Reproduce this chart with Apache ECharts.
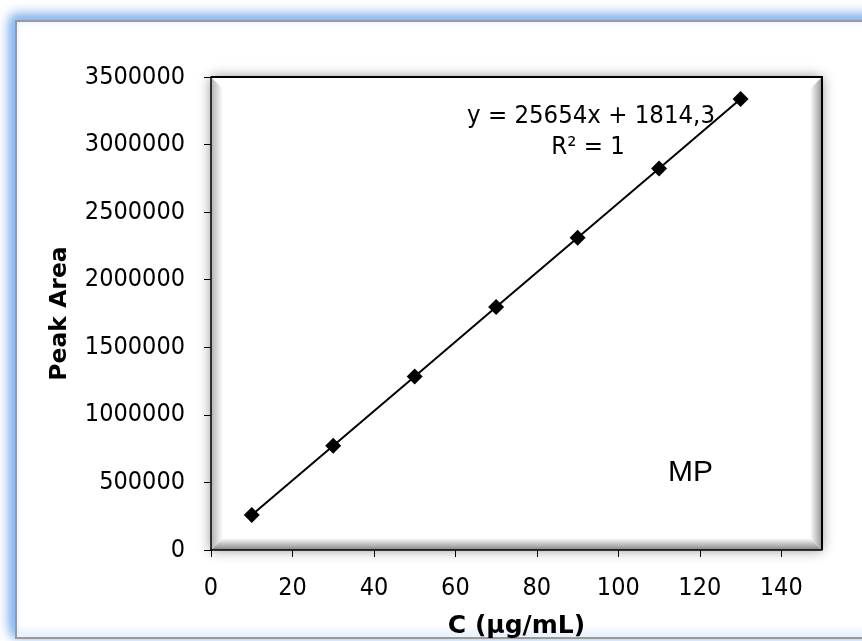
<!DOCTYPE html>
<html>
<head>
<meta charset="utf-8">
<script src="https://cdn.jsdelivr.net/npm/echarts@6/dist/echarts.min.js"></script>
<style>html,body{margin:0;padding:0;background:#fff;}#c{width:862px;height:641px;}</style>
</head>
<body>
<div id="c"></div>
<script>
const concentrations = [10, 30, 50, 70, 90, 110, 130];
const peakAreas = [258354, 771434, 1284514, 1797594, 2310674, 2823754, 3336834];
const xTicks = [0, 20, 40, 60, 80, 100, 120, 140];
const equationText = 'y = 25654x + 1814,3';
const r2Text = 'R² = 1';
const seriesLabel = 'MP';

const FONT = "'DejaVu Sans Condensed', 'DejaVu Sans', sans-serif";
const BFONT = "'DejaVu Sans', sans-serif";
const G = {l: 211, t: 77, r: 822, b: 550};
const BW = 12;

const chart = echarts.init(document.getElementById('c'), null, {renderer: 'canvas'});
chart.setOption({
  animation: false,
  backgroundColor: '#fff',
  grid: {left: G.l, top: G.t, width: G.r - G.l, height: G.b - G.t, containLabel: false, outerBoundsMode: 'none'},
  xAxis: {
    type: 'value', min: 0, max: 150, interval: 20, z: 5,
    name: 'C (µg/mL)', nameLocation: 'middle', nameGap: 64,
    nameTextStyle: {fontFamily: BFONT, fontSize: 25, fontWeight: 'bold', color: '#000'},
    axisLine: {show: true, onZero: false, lineStyle: {color: '#000', width: 1.5}},
    axisTick: {show: true, inside: false, length: 7, lineStyle: {color: '#000'}, customValues: xTicks},
    axisLabel: {fontFamily: FONT, fontSize: 25, color: '#000', margin: 26, customValues: xTicks},
    splitLine: {show: false}
  },
  yAxis: {
    type: 'value', min: 0, max: 3500000, interval: 500000, z: 5,
    name: 'Peak Area', nameLocation: 'middle', nameGap: 139, nameRotate: 90,
    nameTextStyle: {fontFamily: BFONT, fontSize: 23.5, fontWeight: 'bold', color: '#000'},
    axisLine: {show: true, lineStyle: {color: '#000', width: 1.5}},
    axisTick: {show: true, inside: false, length: 7, lineStyle: {color: '#000'}},
    axisLabel: {fontFamily: FONT, fontSize: 25, color: '#000', margin: 26, formatter: v => String(v)},
    splitLine: {show: false}
  },
  graphic: {elements: [
    {type: 'rect', z: -11, shape: {x: 16, y: 21, width: 900, height: 617},
     style: {fill: '#fff', shadowBlur: 14, shadowColor: 'rgba(110,165,235,1)', shadowOffsetX: -5, shadowOffsetY: -5}},
    {type: 'rect', z: -10, shape: {x: 16, y: 21, width: 900, height: 617},
     style: {fill: '#fff', stroke: '#9a9a9a', lineWidth: 2, shadowBlur: 8, shadowColor: 'rgba(140,185,240,1)', shadowOffsetX: -3, shadowOffsetY: -3}},
    {type: 'rect', z: -5, shape: {x: G.l, y: G.t, width: G.r - G.l, height: G.b - G.t},
     style: {fill: '#fff', shadowBlur: 12, shadowColor: 'rgba(0,0,0,0.45)', shadowOffsetX: 0, shadowOffsetY: 0}},
    {type: 'polygon', z: -4, shape: {points: [[G.l, G.t], [G.l + BW, G.t + BW], [G.l + BW, G.b - BW], [G.l, G.b]]},
     style: {fill: new echarts.graphic.LinearGradient(0, 0, 1, 0, [{offset: 0, color: '#b0b0b0'}, {offset: 1, color: '#fff'}])}},
    {type: 'polygon', z: -4, shape: {points: [[G.l, G.b], [G.l + BW, G.b - BW], [G.r - BW, G.b - BW], [G.r, G.b]]},
     style: {fill: new echarts.graphic.LinearGradient(0, 1, 0, 0, [{offset: 0, color: '#858585'}, {offset: 1, color: '#fff'}])}},
    {type: 'polygon', z: -4, shape: {points: [[G.r, G.t], [G.r - BW, G.t + BW], [G.r - BW, G.b - BW], [G.r, G.b]]},
     style: {fill: new echarts.graphic.LinearGradient(1, 0, 0, 0, [{offset: 0, color: '#959595'}, {offset: 1, color: '#fff'}])}},
    {type: 'polyline', z: 4, shape: {points: [[G.l, G.t], [G.r, G.t], [G.r, G.b]]},
     style: {stroke: '#000', lineWidth: 2, fill: null}},
    {type: 'text', z: 20, x: 591, y: 116,
     style: {text: equationText, fontFamily: FONT, fontSize: 25.5, fill: '#000', align: 'center', verticalAlign: 'middle'}},
    {type: 'text', z: 20, x: 588, y: 147,
     style: {text: r2Text, fontFamily: FONT, fontSize: 25.5, fill: '#000', align: 'center', verticalAlign: 'middle'}},
    {type: 'text', z: 20, x: 668, y: 473,
     style: {text: seriesLabel, fontFamily: "'Liberation Sans', Arial, sans-serif", fontSize: 30, fill: '#000', align: 'left', verticalAlign: 'middle'}}
  ]},
  series: [{
    type: 'line', z: 10,
    data: concentrations.map((c, i) => [c, peakAreas[i]]),
    symbol: 'diamond', symbolSize: 16, showAllSymbol: true,
    lineStyle: {color: '#000', width: 2},
    itemStyle: {color: '#000'}
  }]
});
</script>
</body>
</html>
